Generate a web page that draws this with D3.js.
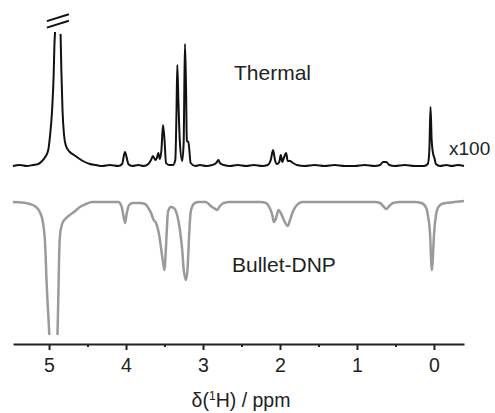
<!DOCTYPE html>
<html>
<head>
<meta charset="utf-8">
<script src="https://cdn.jsdelivr.net/npm/d3@7"></script>
<style>
  html, body { margin: 0; padding: 0; background: #fff; }
  svg { display: block; font-family: "Liberation Sans", Arial, Helvetica, sans-serif; }
</style>
</head>
<body>
<svg id="chart" width="495" height="413"></svg>
<script>
// ---- data ----
// Thermal spectrum (x100), arbitrary intensity units; null marks the broken (clipped) top of the water peak
const thermalPpm = [5.47,5.38,5.29,5.21,5.14,5.09,5.05,5.01,4.99,4.96,4.94,4.93,4.922,null,4.85,4.84,4.825,4.805,4.78,4.73,4.675,4.62,4.56,4.47,4.39,4.31,4.21,4.10,4.05,4.026,4.013,3.99,3.97,3.92,3.84,3.77,3.71,3.675,3.65,3.62,3.60,3.58,3.56,3.54,3.52,3.50,3.48,3.44,3.39,3.36,3.344,3.334,3.32,3.30,3.27,3.25,3.243,3.234,3.22,3.21,3.19,3.16,3.10,3.04,2.96,2.88,2.83,2.80,2.78,2.73,2.65,2.55,2.44,2.34,2.23,2.16,2.12,2.09,2.065,2.04,2.01,1.99,1.97,1.95,1.92,1.90,1.87,1.83,1.78,1.68,1.55,1.42,1.29,1.16,1.03,0.90,0.77,0.70,0.66,0.62,0.58,0.51,0.38,0.25,0.13,0.08,0.06,0.045,0.03,0.013,-0.006,-0.025,-0.08,-0.16,-0.23,-0.31,-0.39];
const thermalInt = [0,1,0,1,2,5,9,16,28,56,91,121,134,null,132,96,56,31,20,14,11,8,5,2,1,0,1,0,2,11,14,8,2,0,1,0,2,6,10,6,8,13,7,16,41,26,3,1,1,6,56,101,66,23,5,26,76,122,76,25,24,3,0,1,0,1,3,6,3,1,0,1,0,1,0,1,6,16,6,2,4,11,4,8,13,5,5,3,1,0,1,0,1,0,0,1,0,1,4,4,1,0,1,0,0,2,16,59,26,13,8,2,0,1,0,1,0];

// Bullet-DNP spectrum, arbitrary intensity units (negative = inverted); null marks the clipped water peak
const dnpPpm = [5.47,5.35,5.25,5.17,5.12,5.08,5.05,5.03,5.006,4.996,null,4.89,4.88,4.87,4.857,4.83,4.79,4.73,4.66,4.60,4.52,4.44,4.34,4.21,4.10,4.06,4.04,4.013,3.99,3.96,3.91,3.82,3.75,3.71,3.675,3.64,3.61,3.57,3.55,3.52,3.50,3.49,3.47,3.455,3.42,3.38,3.34,3.30,3.27,3.25,3.22,3.20,3.18,3.16,3.12,3.065,2.97,2.94,2.90,2.86,2.82,2.78,2.73,2.65,2.45,2.26,2.18,2.14,2.10,2.08,2.05,2.02,1.99,1.95,1.90,1.87,1.83,1.78,1.71,1.48,1.09,0.77,0.70,0.66,0.62,0.58,0.53,0.44,0.25,0.16,0.10,0.08,0.05,0.04,0.026,0.013,0.0,-0.026,-0.05,-0.10,-0.21,-0.39];
const dnpInt = [0,-0.5,-2,-5,-10,-20,-43,-83,-118,-133,null,-133,-98,-58,-33,-22,-17,-13,-9,-5,-2,0,0,0,0,-4,-11,-21,-11,-3,-1,-1,-2,-6,-11,-18,-21,-33,-43,-60,-68,-58,-28,-10,-5,-6,-12,-28,-48,-68,-78,-66,-33,-10,-2,0,0,-1,-4,-6,-8,-4,-1,0,0,0,-1,-5,-13,-20,-16,-8,-11,-18,-24,-18,-9,-3,0,0,0,0,-1,-4,-7,-4,-1,0,0,-1,-6,-13,-33,-53,-68,-53,-33,-13,-6,-2,-0.5,1];

const majorTicks = [5, 4, 3, 2, 1, 0];
const minorTicks = [4.5, 3.5, 2.5, 1.5, 0.5];
const tickLabels = ["5", "4", "3", "2", "1", "0"];
const traceLabels = ["Thermal", "Bullet-DNP"];
const scaleLabel = "x100";

// ---- drawing ----
const svg = d3.select("#chart");
const x = d3.scaleLinear().domain([5.468, -0.39]).range([13, 464]);
const yT = d3.scaleLinear().domain([0, 100]).range([166, 66]);
const yD = d3.scaleLinear().domain([0, -100]).range([202, 302]);

const thermal = thermalPpm.map((p, i) => ({p, v: thermalInt[i]}));
const dnp = dnpPpm.map((p, i) => ({p, v: dnpInt[i]}));

const lineT = d3.line().defined(d => d.p !== null && d.v !== null)
  .x(d => x(d.p)).y(d => yT(d.v)).curve(d3.curveMonotoneX);
const lineD = d3.line().defined(d => d.p !== null && d.v !== null)
  .x(d => x(d.p)).y(d => yD(d.v)).curve(d3.curveMonotoneX);

svg.append("path").datum(dnp).attr("d", lineD)
  .attr("fill", "none").attr("stroke", "#9a9a9a").attr("stroke-width", 2.5)
  .attr("stroke-linejoin", "round").attr("stroke-linecap", "butt");

svg.append("path").datum(thermal).attr("d", lineT)
  .attr("fill", "none").attr("stroke", "#111").attr("stroke-width", 2)
  .attr("stroke-linejoin", "round").attr("stroke-linecap", "butt");

// break marks above the clipped thermal water peak
const breakPpm = 4.885;
const bx = x(breakPpm), by = yT(134) - 14.3;
[0, 6.5].forEach(off => {
  svg.append("line")
    .attr("x1", bx - 11).attr("y1", by + 3.4 + off)
    .attr("x2", bx + 11).attr("y2", by - 3.4 + off)
    .attr("stroke", "#111").attr("stroke-width", 2);
});

// x axis
const axisY = 344;
const axis = d3.axisBottom(x).tickValues(majorTicks).tickFormat((d, i) => tickLabels[i])
  .tickSizeInner(6).tickSizeOuter(0).tickPadding(8);
const gAx = svg.append("g").attr("transform", `translate(0,${axisY})`).call(axis);
gAx.select(".domain").attr("stroke", "#222").attr("stroke-width", 2.2);
gAx.selectAll(".tick line").attr("stroke", "#222").attr("stroke-width", 2);
gAx.selectAll(".tick text").attr("font-size", 19.5).attr("fill", "#222")
  .attr("font-family", "Liberation Sans, Arial, sans-serif");
const axisMinor = d3.axisBottom(x).tickValues(minorTicks).tickFormat("").tickSizeInner(3).tickSizeOuter(0);
const gMin = svg.append("g").attr("transform", `translate(0,${axisY})`).call(axisMinor);
gMin.select(".domain").remove();
gMin.selectAll(".tick line").attr("stroke", "#222").attr("stroke-width", 2);

// axis title
const title = svg.append("text").attr("x", 241).attr("y", 406.5).attr("text-anchor", "middle")
  .attr("font-size", 19.5).attr("fill", "#222");
title.append("tspan").text("δ(");
title.append("tspan").attr("font-size", 12).attr("dy", -7).text("1");
title.append("tspan").attr("dy", 7).text("H) / ppm");

// trace labels
svg.append("text").attr("x", 234).attr("y", 80).attr("font-size", 21).attr("fill", "#222").text(traceLabels[0]);
svg.append("text").attr("x", 232).attr("y", 271.5).attr("font-size", 21).attr("fill", "#222").text(traceLabels[1]);
svg.append("text").attr("x", 449).attr("y", 154.5).attr("font-size", 19).attr("fill", "#222").text(scaleLabel);
</script>
</body>
</html>
